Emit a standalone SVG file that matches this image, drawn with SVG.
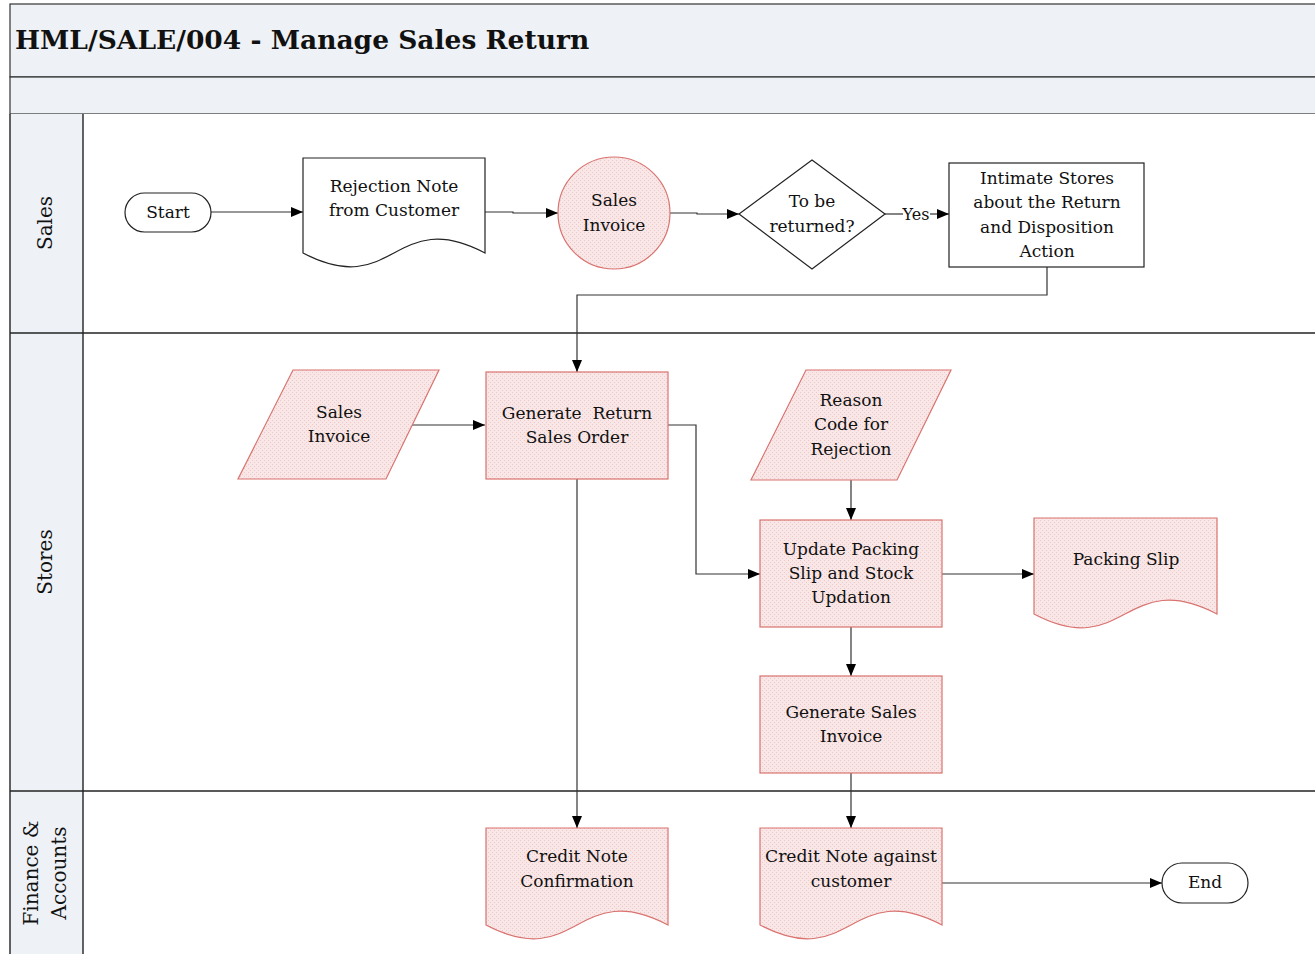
<svg xmlns="http://www.w3.org/2000/svg" width="1315" height="954" viewBox="0 0 1315 954">
  <defs>
    <pattern id="hatch" width="4" height="4" patternUnits="userSpaceOnUse">
      <rect width="4" height="4" fill="#f9e7e7"/>
      <rect x="0" y="0" width="1" height="1" fill="#ecc8c8"/>
      <rect x="2" y="2" width="1" height="1" fill="#ecc8c8"/>
    </pattern>
    <marker id="arrow" markerWidth="12" markerHeight="10" refX="12" refY="5" orient="auto" markerUnits="userSpaceOnUse">
      <path d="M0,0 L12,5 L0,10 Z" fill="#000"/>
    </marker>
    <style>
      .lbl { font-family: "DejaVu Serif", "Liberation Serif", serif; font-size: 17px; fill: #111; text-anchor: middle; }
      .lane { font-family: "DejaVu Serif", "Liberation Serif", serif; font-size: 20px; fill: #111; text-anchor: middle; }
      .title { font-family: "DejaVu Serif", "Liberation Serif", serif; font-size: 26.5px; font-weight: bold; fill: #111; }
      .plain { fill: #fff; stroke: #222; stroke-width: 1.2; }
      .pink { fill: url(#hatch); stroke: #d9736f; stroke-width: 1.2; }
      .conn { fill: none; stroke: #333; stroke-width: 1.2; }
      .conn-a { fill: none; stroke: #333; stroke-width: 1.2; marker-end: url(#arrow); }
      .band { fill: #eef1f6; stroke: #333; stroke-width: 1.2; }
      .rule { stroke: #222; stroke-width: 1.4; }
    </style>
  </defs>

  <!-- pool header and lanes -->
  <g id="pool">
    <rect x="10" y="4" width="1310" height="73" class="band"/>
    <rect x="10" y="77" width="1310" height="37" class="band"/>
    <text x="15" y="49" class="title">HML/SALE/004 - Manage Sales Return</text>
    <rect x="10" y="114" width="1310" height="845" fill="#fff"/>
    <rect x="10" y="114" width="73" height="845" fill="#eef1f6"/>
    <line x1="10" y1="114" x2="10" y2="954" class="rule"/>
    <line x1="83" y1="114" x2="83" y2="954" class="rule"/>
    <line x1="10" y1="333" x2="1315" y2="333" class="rule"/>
    <line x1="10" y1="791" x2="1315" y2="791" class="rule"/>
  </g>
  <g id="lane-sales">
    <text class="lane" transform="translate(52,223) rotate(-90)">Sales</text>
  </g>
  <g id="lane-stores">
    <text class="lane" transform="translate(52,562) rotate(-90)">Stores</text>
  </g>
  <g id="lane-finance">
    <text class="lane" transform="translate(38,873) rotate(-90)">Finance &amp;</text>
    <text class="lane" transform="translate(66,873) rotate(-90)">Accounts</text>
  </g>

  <!-- connectors -->
  <g id="connectors">
    <path d="M211,212 H303" class="conn-a"/>
    <path d="M485,212 H513 V213 H558" class="conn-a"/>
    <path d="M670,213 H697 V214 H739" class="conn-a"/>
    <path d="M885,214 H903" class="conn"/>
    <path d="M930,214 H949" class="conn-a"/>
    <path d="M1047,267 V295 H577 V372" class="conn-a"/>
    <path d="M412,425 H485" class="conn-a"/>
    <path d="M668,425 H696 V574 H760" class="conn-a"/>
    <path d="M577,479 V828" class="conn-a"/>
    <path d="M851,480 V520" class="conn-a"/>
    <path d="M942,574 H1034" class="conn-a"/>
    <path d="M851,627 V676" class="conn-a"/>
    <path d="M851,773 V828" class="conn-a"/>
    <path d="M942,883 H1162" class="conn-a"/>
    <text x="916" y="220" class="lbl" style="font-size:16px">Yes</text>
  </g>

  <!-- nodes -->
  <g id="start">
    <rect x="125" y="193" width="86" height="39" rx="19.5" class="plain"/>
    <text x="168" y="218" class="lbl">Start</text>
  </g>
  <g id="rejection-note">
    <path d="M303,158 H485 V253 C394,205 394,301 303,253 Z" class="plain"/>
    <text x="394" y="192" class="lbl">Rejection Note</text>
    <text x="394" y="216" class="lbl">from Customer</text>
  </g>
  <g id="sales-invoice-sales">
    <circle cx="614" cy="213" r="56" class="pink"/>
    <text x="614" y="206" class="lbl">Sales</text>
    <text x="614" y="231" class="lbl">Invoice</text>
  </g>
  <g id="decision">
    <path d="M812,160 L885,214 L812,269 L739,214 Z" class="plain"/>
    <text x="812" y="207" class="lbl">To be</text>
    <text x="812" y="232" class="lbl">returned?</text>
  </g>
  <g id="intimate-stores">
    <rect x="949" y="163" width="195" height="104" class="plain"/>
    <text x="1047" y="184" class="lbl">Intimate Stores</text>
    <text x="1047" y="208" class="lbl">about the Return</text>
    <text x="1047" y="233" class="lbl">and Disposition</text>
    <text x="1047" y="257" class="lbl">Action</text>
  </g>
  <g id="sales-invoice-stores">
    <path d="M293,370 H439 L386,479 H238 Z" class="pink"/>
    <text x="339" y="418" class="lbl">Sales</text>
    <text x="339" y="442" class="lbl">Invoice</text>
  </g>
  <g id="generate-return">
    <rect x="486" y="372" width="182" height="107" class="pink"/>
    <text x="577" y="419" class="lbl" xml:space="preserve">Generate  Return</text>
    <text x="577" y="443" class="lbl">Sales Order</text>
  </g>
  <g id="reason-code">
    <path d="M806,370 H951 L897,480 H751 Z" class="pink"/>
    <text x="851" y="406" class="lbl">Reason</text>
    <text x="851" y="430" class="lbl">Code for</text>
    <text x="851" y="455" class="lbl">Rejection</text>
  </g>
  <g id="update-packing">
    <rect x="760" y="520" width="182" height="107" class="pink"/>
    <text x="851" y="555" class="lbl">Update Packing</text>
    <text x="851" y="579" class="lbl">Slip and Stock</text>
    <text x="851" y="603" class="lbl">Updation</text>
  </g>
  <g id="packing-slip">
    <path d="M1034,518 H1217 V614 C1125,566 1125,662 1034,614 Z" class="pink"/>
    <text x="1126" y="565" class="lbl">Packing Slip</text>
  </g>
  <g id="generate-sales-invoice">
    <rect x="760" y="676" width="182" height="97" class="pink"/>
    <text x="851" y="718" class="lbl">Generate Sales</text>
    <text x="851" y="742" class="lbl">Invoice</text>
  </g>
  <g id="credit-note-confirmation">
    <path d="M486,828 H668 V925 C577,877 577,973 486,925 Z" class="pink"/>
    <text x="577" y="862" class="lbl">Credit Note</text>
    <text x="577" y="887" class="lbl">Confirmation</text>
  </g>
  <g id="credit-note-customer">
    <path d="M760,828 H942 V925 C851,877 851,973 760,925 Z" class="pink"/>
    <text x="851" y="862" class="lbl" textLength="172" lengthAdjust="spacingAndGlyphs">Credit Note against</text>
    <text x="851" y="887" class="lbl">customer</text>
  </g>
  <g id="end">
    <rect x="1162" y="863" width="86" height="40" rx="20" class="plain"/>
    <text x="1205" y="888" class="lbl">End</text>
  </g>
</svg>
